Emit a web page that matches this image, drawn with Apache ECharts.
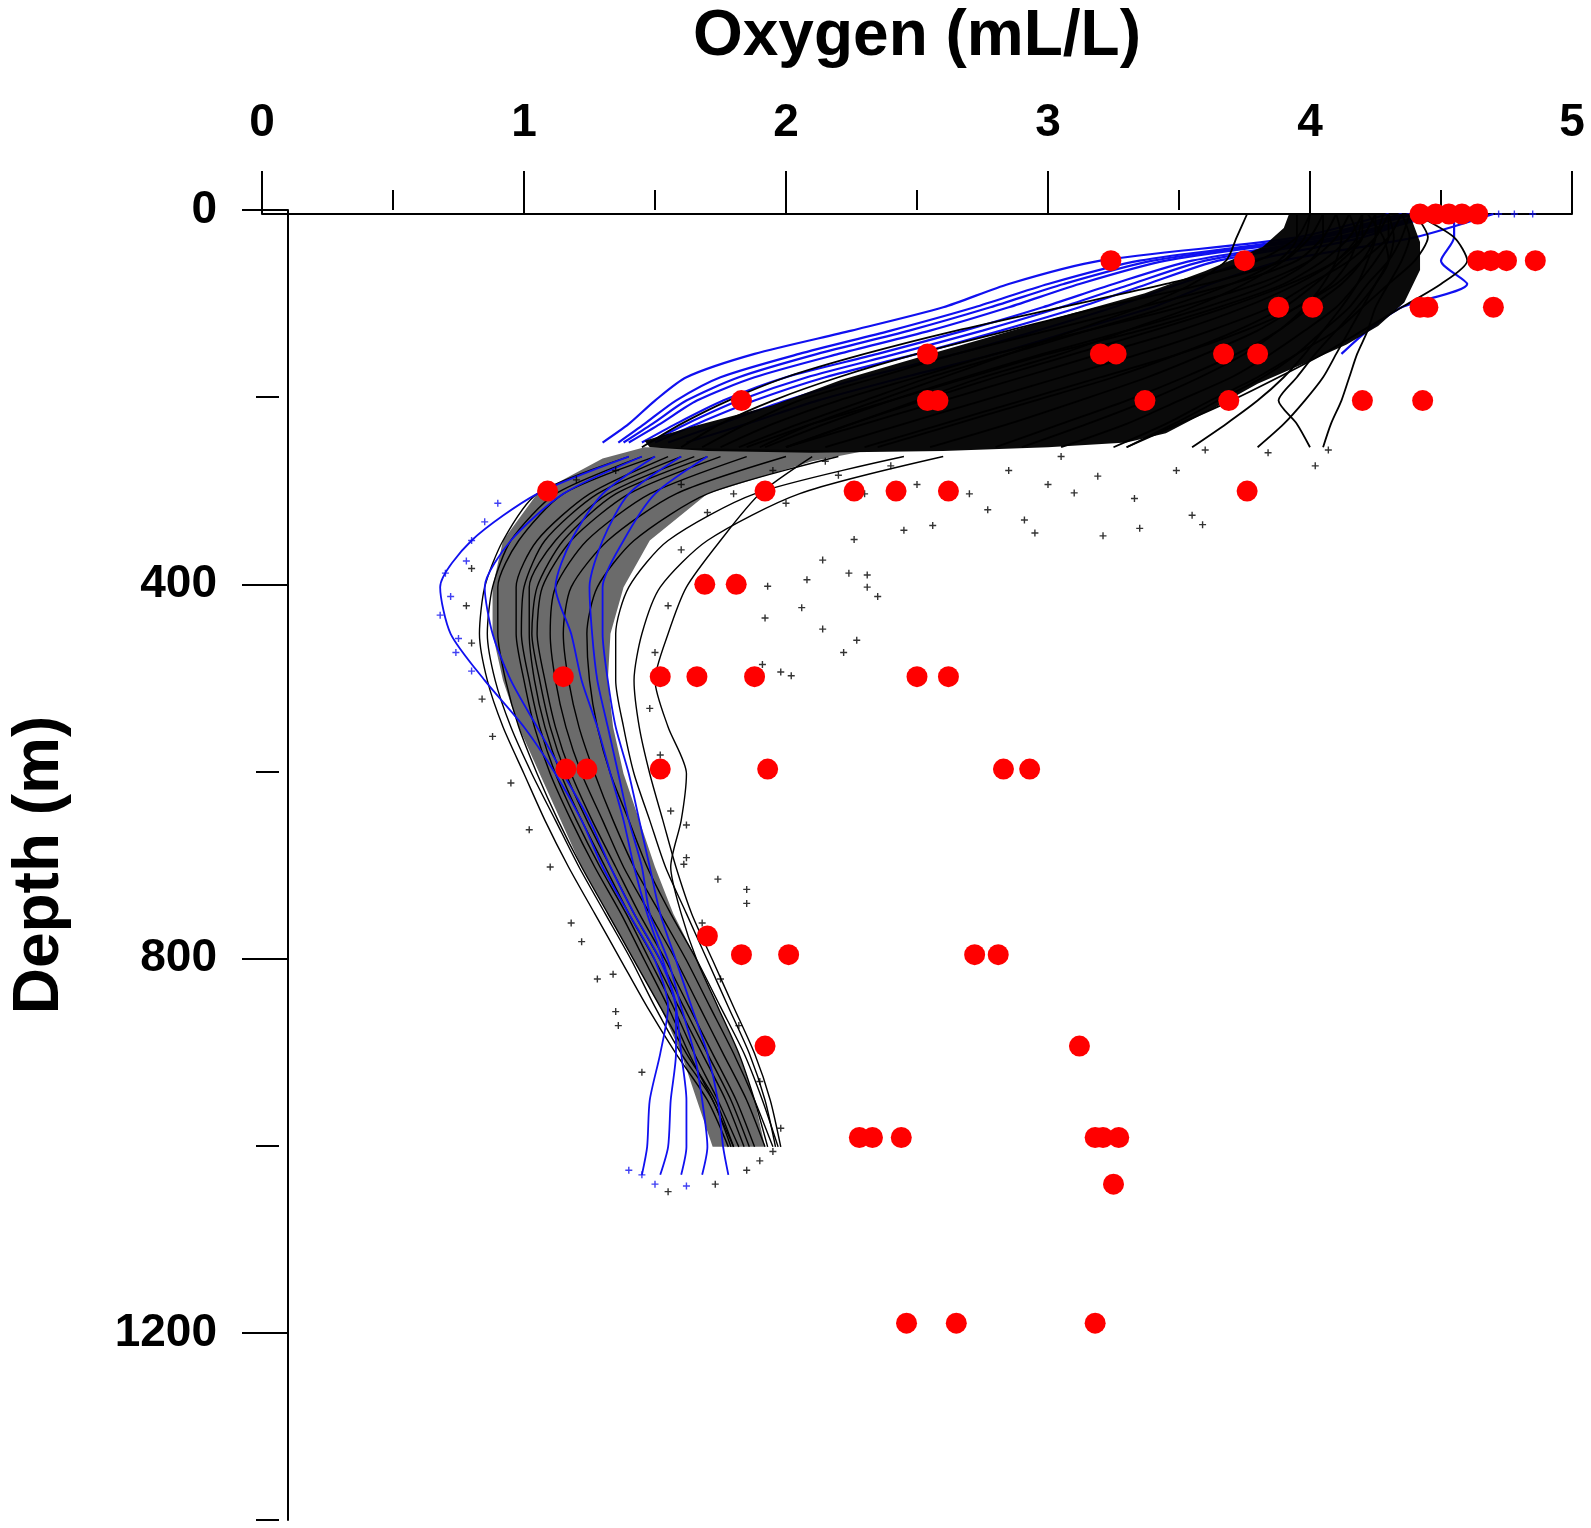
<!DOCTYPE html>
<html>
<head>
<meta charset="utf-8">
<script src="https://cdn.jsdelivr.net/npm/echarts@6/dist/echarts.min.js"></script>
<style>
html,body{margin:0;padding:0;background:#fff;}
#chart{width:1591px;height:1528px;}
</style>
</head>
<body>
<div id="chart"></div>
<script>
// ---------- data (oxygen mL/L, depth m) ----------
const xTickLabels = [0, 1, 2, 3, 4, 5];
const xMinorTicks = [0, 0.5, 1, 1.5, 2, 2.5, 3, 3.5, 4, 4.5, 5];
const yTickLabels = [0, 400, 800, 1200];
const yMinorTicks = [0, 200, 400, 600, 800, 1000, 1200, 1400];

// discrete bottle samples (red)
const redDots = [
  [4.42,0],[4.48,0],[4.53,0],[4.58,0],[4.64,0],
  [3.24,50],[3.75,50],[4.64,50],[4.69,50],[4.75,50],[4.86,50],
  [3.88,100],[4.01,100],[4.42,100],[4.45,100],[4.70,100],
  [2.54,150],[3.20,150],[3.26,150],[3.67,150],[3.80,150],
  [1.83,200],[2.54,200],[2.58,200],[3.37,200],[3.69,200],[4.20,200],[4.43,200],
  [1.09,297],[1.92,297],[2.26,297],[2.42,297],[2.62,297],[3.76,297],
  [1.69,397],[1.81,397],
  [1.15,496],[1.52,496],[1.66,496],[1.88,496],[2.50,496],[2.62,496],
  [1.16,595],[1.24,595],[1.52,595],[1.93,595],[2.83,595],[2.93,595],
  [1.70,774],
  [1.83,794],[2.01,794],[2.72,794],[2.81,794],
  [1.92,892],[3.12,892],
  [2.28,990],[2.33,990],[2.44,990],[3.18,990],[3.21,990],[3.27,990],
  [3.25,1040],
  [2.46,1189],[2.65,1189],[3.18,1189]
];

// upper-layer profiles (black)
const upperDepths = [0, 25, 50, 75, 100, 125, 150, 175, 200, 225, 250];
const blackUpper = [
  [4.00, 3.95, 3.80, 3.45, 3.05, 2.65, 2.30, 2.00, 1.78, 1.60, 1.45],
  [4.05, 4.00, 3.90, 3.60, 3.20, 2.85, 2.50, 2.20, 1.95, 1.75, 1.60],
  [4.10, 4.05, 3.95, 3.70, 3.35, 3.00, 2.65, 2.35, 2.05, 1.85, 1.68],
  [4.15, 4.10, 4.00, 3.80, 3.50, 3.15, 2.80, 2.50, 2.20, 1.95, 1.75],
  [4.20, 4.15, 4.05, 3.90, 3.65, 3.35, 3.00, 2.70, 2.40, 2.10, 1.85],
  [4.25, 4.20, 4.10, 3.95, 3.75, 3.50, 3.20, 2.90, 2.60, 2.30, 2.00],
  [4.30, 4.25, 4.15, 4.00, 3.85, 3.62, 3.35, 3.05, 2.75, 2.45, 2.15],
  [4.20, 4.20, 4.12, 4.02, 3.90, 3.72, 3.50, 3.25, 2.95, 2.65, 2.35],
  [4.35, 4.30, 4.20, 4.10, 3.95, 3.80, 3.60, 3.38, 3.12, 2.85, 2.55],
  [4.00, 3.98, 3.90, 3.75, 3.55, 3.30, 3.05, 2.75, 2.50, 2.25, 2.00],
  [4.28, 4.25, 4.20, 4.12, 4.00, 3.88, 3.72, 3.52, 3.30, 3.05, 2.80],
  [4.30, 4.30, 4.25, 4.18, 4.10, 3.98, 3.85, 3.70, 3.50, 3.30, 3.05],
  [4.38, 4.35, 4.30, 4.22, 4.15, 4.05, 3.95, 3.82, 3.65, 3.48, 3.30],
  [4.25, 4.25, 4.22, 4.18, 4.12, 4.05, 3.98, 3.90, 3.80, 3.68, 3.55],
  [4.30, 4.32, 4.30, 4.25, 4.20, 4.15, 4.10, 4.05, 3.98, 3.90, 3.80],
  [4.35, 4.38, 4.35, 4.30, 4.25, 4.22, 4.18, 4.15, 4.12, 4.08, 4.05],
  [4.10, 4.12, 4.10, 4.05, 3.98, 3.88, 3.75, 3.58, 3.38, 3.15, 2.90],
  [3.95, 3.95, 3.88, 3.70, 3.45, 3.15, 2.85, 2.55, 2.30, 2.05, 1.82],
  [4.20, 4.18, 4.10, 3.92, 3.68, 3.40, 3.10, 2.80, 2.52, 2.25, 2.00],
  [4.40, 4.45, 4.40, 4.30, 4.20, 4.10, 3.95, 3.80, 3.62, 3.45, 3.25],
  [3.76, 3.72, 3.68, 3.55, 3.35, 3.10, 2.85, 2.60, 2.35, 2.10, 1.90],
  [4.05, 4.05, 4.00, 3.85, 3.60, 3.30, 2.98, 2.68, 2.40, 2.15, 1.92],
  [4.15, 4.18, 4.15, 4.08, 3.95, 3.75, 3.50, 3.20, 2.90, 2.60, 2.30],
  [4.22, 4.28, 4.30, 4.25, 4.18, 4.10, 4.02, 3.95, 3.88, 3.95, 4.00],
  [4.40, 4.55, 4.60, 4.50, 4.35, 4.20, 4.05, 3.88, 3.70, 3.50, 3.30]
];

// upper-layer profiles (blue); null = profile ended
const blueUpperDepths = [0, 25, 50, 75, 100, 125, 150, 175, 200, 225, 245];
const blueUpper = [
  [4.30, 3.95, 3.20, 2.85, 2.60, 2.25, 1.88, 1.62, 1.50, 1.40, 1.30],
  [4.35, 4.00, 3.35, 3.00, 2.72, 2.40, 2.05, 1.75, 1.58, 1.46, 1.36],
  [4.38, 4.02, 3.40, 3.06, 2.78, 2.47, 2.12, 1.82, 1.62, 1.49, 1.38],
  [4.40, 4.05, 3.45, 3.12, 2.85, 2.55, 2.20, 1.88, 1.66, 1.52, 1.40],
  [4.45, 4.10, 3.55, 3.25, 2.98, 2.68, 2.35, 2.00, 1.76, 1.58, 1.45],
  [4.48, 4.12, 3.60, 3.32, 3.05, 2.75, 2.42, 2.08, 1.82, 1.62, 1.48],
  [4.50, 4.15, 3.65, 3.38, 3.12, 2.82, 2.50, 2.15, 1.88, 1.66, 1.50],
  [4.45, 4.20, 3.78, 3.50, 3.25, 2.96, 2.65, 2.30, 2.00, 1.75, 1.55],
  [4.55, 4.55, 4.50, 4.60, 4.35, 4.22, 4.12, null, null, null, null],
  [4.70, 4.40, 3.90, 3.62, 3.40, 3.10, 2.80, 2.45, 2.12, 1.85, 1.62]
];

// deep profiles (black)
const deepDepths = [260, 300, 350, 400, 450, 500, 550, 600, 650, 700, 750, 800, 850, 900, 950, 1000];
const blackDeep = [
  [1.40, 1.05, 0.92, 0.85, 0.83, 0.86, 0.92, 1.00, 1.08, 1.17, 1.27, 1.37, 1.47, 1.58, 1.70, 1.78],
  [1.50, 1.15, 0.98, 0.90, 0.90, 0.93, 0.98, 1.05, 1.13, 1.22, 1.32, 1.42, 1.52, 1.62, 1.73, 1.80],
  [1.55, 1.25, 1.05, 0.97, 0.97, 1.00, 1.04, 1.10, 1.18, 1.27, 1.37, 1.46, 1.55, 1.63, 1.72, 1.80],
  [1.65, 1.32, 1.12, 1.02, 1.02, 1.04, 1.08, 1.14, 1.22, 1.31, 1.40, 1.50, 1.59, 1.68, 1.77, 1.84],
  [1.75, 1.40, 1.18, 1.07, 1.05, 1.08, 1.12, 1.18, 1.26, 1.35, 1.44, 1.54, 1.63, 1.72, 1.81, 1.88],
  [1.85, 1.48, 1.24, 1.12, 1.10, 1.12, 1.16, 1.22, 1.30, 1.38, 1.48, 1.58, 1.67, 1.76, 1.85, 1.92],
  [2.00, 1.58, 1.32, 1.18, 1.15, 1.17, 1.21, 1.27, 1.34, 1.42, 1.52, 1.62, 1.71, 1.80, 1.88, 1.95],
  [2.20, 1.70, 1.42, 1.28, 1.24, 1.25, 1.28, 1.33, 1.40, 1.47, 1.56, 1.66, 1.75, 1.84, 1.91, 1.97],
  [2.45, 1.88, 1.55, 1.40, 1.35, 1.35, 1.38, 1.42, 1.48, 1.54, 1.62, 1.70, 1.78, 1.86, 1.92, 1.96],
  [1.45, 1.12, 0.95, 0.88, 0.86, 0.89, 0.95, 1.03, 1.12, 1.21, 1.31, 1.41, 1.50, 1.60, 1.72, 1.79],
  [1.60, 1.28, 1.08, 1.00, 0.99, 1.02, 1.06, 1.12, 1.20, 1.29, 1.39, 1.48, 1.57, 1.65, 1.74, 1.82],
  [1.70, 1.35, 1.15, 1.05, 1.03, 1.06, 1.10, 1.16, 1.24, 1.33, 1.42, 1.52, 1.61, 1.70, 1.79, 1.86],
  [2.10, 1.90, 1.75, 1.62, 1.55, 1.50, 1.55, 1.62, 1.60, 1.56, 1.60, 1.66, 1.74, 1.82, 1.88, 1.93],
  [2.60, 2.05, 1.70, 1.52, 1.45, 1.42, 1.44, 1.48, 1.53, 1.58, 1.64, 1.72, 1.80, 1.88, 1.94, 1.98]
];

// deep profiles (blue)
const blueDeepDepths = [260, 300, 350, 400, 450, 500, 550, 600, 650, 700, 750, 800, 850, 900, 950, 1000, 1030];
const blueDeep = [
  [1.40, 1.05, 0.80, 0.68, 0.72, 0.85, 1.00, 1.12, 1.22, 1.30, 1.40, 1.50, 1.55, 1.52, 1.48, 1.47, 1.45],
  [1.45, 1.15, 0.95, 0.85, 0.88, 0.95, 1.05, 1.15, 1.25, 1.33, 1.42, 1.52, 1.58, 1.58, 1.56, 1.55, 1.52],
  [1.60, 1.40, 1.30, 1.25, 1.26, 1.28, 1.32, 1.36, 1.40, 1.45, 1.48, 1.55, 1.60, 1.65, 1.68, 1.70, 1.68],
  [1.70, 1.50, 1.38, 1.30, 1.30, 1.32, 1.35, 1.40, 1.44, 1.48, 1.52, 1.58, 1.64, 1.70, 1.74, 1.76, 1.78],
  [1.50, 1.30, 1.18, 1.12, 1.18, 1.22, 1.28, 1.33, 1.38, 1.42, 1.47, 1.53, 1.58, 1.60, 1.62, 1.62, 1.60]
];

// isolated profile samples
const blackScatter = [
  [3.05,260],[3.19,281],[3.33,305],[3.49,275],[3.60,253],[3.84,256],[4.02,270],[4.07,253],
  [2.77,317],[2.91,328],[3.10,299],[3.21,345],[3.55,323],[3.59,333],[3.35,337],[2.95,342],
  [2.56,334],[2.45,339],[2.26,349],[2.50,290],[2.70,300],[2.20,280],
  [2.31,400],[1.98,491],[1.85,724],[1.74,713],[1.85,739],[1.62,655],[1.61,697],[1.35,855],
  [1.22,780],[1.34,815],[1.93,399],[2.06,422],[2.14,445],[2.27,457],[2.22,470],[2.02,495],
  [1.91,483],[2.31,387],[2.35,410],[2.24,385],[2.14,371],[2.08,392],[1.92,433],
  [1.90,1015],[1.95,1005],[1.85,1025],[1.73,1040],[1.55,1048],
  [0.80,380],[0.78,420],[0.80,460],[0.84,520],[0.88,560],[0.95,610],[1.02,660],[1.10,700],
  [1.18,760],[1.28,820],[1.36,870],[1.45,920],
  [1.60,360],[1.55,420],[1.50,470],[1.48,530],[1.52,580],[1.56,640],[1.62,690],[1.68,760],
  [1.75,820],[1.82,870],[1.90,930],[1.98,980],
  [1.20,285],[1.35,275],[1.60,290],[1.80,300],[2.00,310],[2.30,300],[1.70,320],[2.40,270],
  [2.85,275],[3.00,290],[1.95,275],[2.15,265]
];
const blueScatter = [
  [4.72,0],[4.78,0],[4.85,0],[0.70,385],[0.72,410],[0.68,430],[0.75,455],[0.78,372],
  [0.80,350],[0.85,330],[0.90,310],[0.74,470],[0.80,490],[1.45,1030],[1.50,1040],[1.40,1025],[1.62,1042]
];

// outlines of the densest parts of the profile clouds
const coreUpper = [
  [3.92,0],[4.38,0],[4.42,30],[4.42,60],[4.36,95],[4.26,120],[4.14,140],[3.98,160],[3.80,182],
  [3.62,210],[3.45,235],[3.30,245],[3.00,250],[2.60,254],[2.10,256],[1.70,254],[1.48,250],
  [1.46,243],[1.64,228],[1.95,205],[2.21,178],[2.55,150],[2.91,121],[3.15,102],[3.37,85],
  [3.60,61],[3.82,35],[3.90,15]
];
const coreDeep = [
  [1.46,250],[1.30,262],[1.05,300],[0.92,350],[0.88,400],[0.88,450],[0.92,500],[0.98,550],
  [1.06,600],[1.14,650],[1.22,700],[1.32,750],[1.42,800],[1.52,850],[1.60,900],[1.66,950],
  [1.72,1000],[1.92,1000],[1.88,950],[1.82,900],[1.74,850],[1.66,800],[1.57,750],[1.50,700],
  [1.44,650],[1.38,600],[1.34,550],[1.32,500],[1.33,450],[1.38,400],[1.48,350],[1.70,300],
  [2.10,265],[2.30,254]
];

// ---------- chart ----------
const FONT = "'Liberation Sans', Arial, Helvetica, sans-serif";
const PLUS = 'path://M4,0 L6,0 L6,4 L10,4 L10,6 L6,6 L6,10 L4,10 L4,6 L0,6 L0,4 L4,4 Z';
const BLACK = '#000000';
const BLUE = '#1010f0';

function polySeries(points, color, opacity, z) {
  return {
    type: 'custom', xAxisIndex: 0, yAxisIndex: 0, silent: true, clip: false, z: z,
    data: [[points[0][0], points[0][1]]],
    renderItem: function (params, api) {
      return {
        type: 'polygon',
        shape: { points: points.map(function (p) { return api.coord(p); }) },
        style: { fill: color, opacity: opacity }
      };
    }
  };
}
function profileSeries(depths, values, color, width, z) {
  const pts = [];
  depths.forEach(function (d, i) { if (values[i] !== null) pts.push([values[i], d]); });
  return {
    type: 'line', xAxisIndex: 0, yAxisIndex: 0, silent: true, clip: false, z: z,
    data: pts, symbol: 'none', smooth: 0.25,
    lineStyle: { color: color, width: width },
    itemStyle: { color: color }
  };
}

const series = [];
series.push(polySeries(coreDeep, BLACK, 0.58, 1));
blackDeep.forEach(function (p) { series.push(profileSeries(deepDepths, p, BLACK, 1.4, 2)); });
blueDeep.forEach(function (p) { series.push(profileSeries(blueDeepDepths, p, BLUE, 1.8, 3)); });
blueUpper.forEach(function (p) { series.push(profileSeries(blueUpperDepths, p, BLUE, 2.2, 3)); });
series.push(polySeries(coreUpper, BLACK, 0.96, 4));
blackUpper.forEach(function (p) { series.push(profileSeries(upperDepths, p, BLACK, 1.8, 5)); });
series.push({
  type: 'scatter', xAxisIndex: 0, yAxisIndex: 0, silent: true, clip: false, z: 6,
  data: blackScatter, symbol: PLUS, symbolSize: 7, itemStyle: { color: BLACK }
});
series.push({
  type: 'scatter', xAxisIndex: 0, yAxisIndex: 0, silent: true, clip: false, z: 6,
  data: blueScatter, symbol: PLUS, symbolSize: 7, itemStyle: { color: BLUE }
});
series.push({
  type: 'scatter', xAxisIndex: 0, yAxisIndex: 0, silent: true, clip: false, z: 10,
  data: redDots, symbol: 'circle', symbolSize: 21, itemStyle: { color: '#ff0000', opacity: 1 }
});

const axisLineStyle = { color: '#000', width: 2 };
const gridA = { left: 262, top: 210, width: 1310, height: 1310 };
const gridB = { left: 279, top: 210, width: 1293, height: 1310 };
const plainNumber = function (v) { return String(v); };

const option = {
  animation: false,
  backgroundColor: '#ffffff',
  grid: [gridA, gridA, gridB, gridB].map(function (g) { return Object.assign({ containLabel: false }, g); }),
  xAxis: [
    {
      gridIndex: 0, type: 'value', position: 'top', min: 0, max: 5,
      axisLine: { show: true, onZero: false, lineStyle: axisLineStyle },
      axisTick: { show: true, length: 43, customValues: xTickLabels, lineStyle: axisLineStyle },
      axisLabel: { show: true, customValues: xTickLabels, formatter: plainNumber, margin: 68, fontSize: 46, fontWeight: 'bold', fontFamily: FONT, color: '#000' },
      splitLine: { show: false },
      name: 'Oxygen (mL/L)', nameLocation: 'middle', nameGap: 145,
      nameTextStyle: { fontSize: 64, fontWeight: 'bold', fontFamily: FONT, color: '#000' }
    },
    {
      gridIndex: 1, type: 'value', position: 'top', min: 0, max: 5,
      axisLine: { show: false },
      axisTick: { show: true, length: 20, customValues: xMinorTicks, lineStyle: axisLineStyle },
      axisLabel: { show: false }, splitLine: { show: false }
    },
    { gridIndex: 2, type: 'value', min: 0, max: 5, show: false },
    { gridIndex: 3, type: 'value', min: 0, max: 5, show: false }
  ],
  yAxis: [
    { gridIndex: 0, type: 'value', min: 0, max: 1400, inverse: true, show: false },
    { gridIndex: 1, type: 'value', min: 0, max: 1400, inverse: true, show: false },
    {
      gridIndex: 2, type: 'value', position: 'left', min: 0, max: 1400, inverse: true,
      axisLine: { show: true, onZero: false, lineStyle: axisLineStyle },
      axisTick: { show: true, length: 46, customValues: yTickLabels, lineStyle: axisLineStyle },
      axisLabel: { show: true, customValues: yTickLabels, formatter: plainNumber, margin: 71, fontSize: 46, fontWeight: 'bold', fontFamily: FONT, color: '#000' },
      splitLine: { show: false },
      name: 'Depth (m)', nameLocation: 'middle', nameRotate: 90, nameGap: 216,
      nameTextStyle: { fontSize: 64, fontWeight: 'bold', fontFamily: FONT, color: '#000' }
    },
    {
      gridIndex: 3, type: 'value', position: 'left', min: 0, max: 1400, inverse: true,
      axisLine: { show: false },
      axisTick: { show: true, length: 23, customValues: yMinorTicks, lineStyle: axisLineStyle },
      axisLabel: { show: false }, splitLine: { show: false }
    }
  ],
  series: series
};

const chart = echarts.init(document.getElementById('chart'), null, { renderer: 'canvas' });
chart.setOption(option);
</script>
</body>
</html>
